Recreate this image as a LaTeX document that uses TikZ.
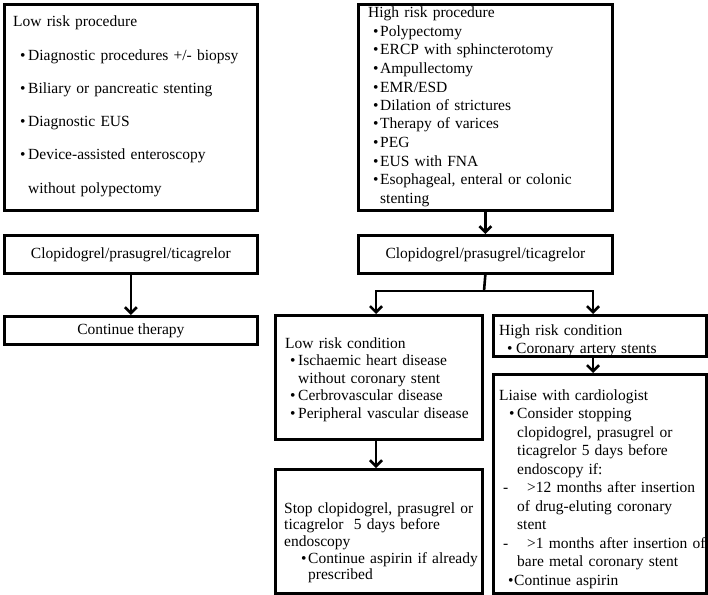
\documentclass[tikz,border=0pt]{standalone}
\usepackage{fontspec}
\setmainfont{Liberation Serif}
\usetikzlibrary{arrows.meta}
\newcommand{\bi}[3]{\hspace*{#1pt}\makebox[\dimexpr#2pt-#1pt\relax][l]{\textbullet}#3}
\newcommand{\ci}[2]{\hspace*{#1pt}#2}
\tikzset{
  box/.style={draw=black, line width=2.7pt, inner sep=0pt, anchor=north west, font=\fontsize{15.5}{18}\selectfont},
  txt/.style={anchor=base west, inner sep=0pt, text width=320pt, align=left},
  conn/.style={line width=2.6pt},
  arr/.style={line width=2.6pt, -{Straight Barb[length=6pt,width=12pt,line width=2.6pt]}}
}
\begin{document}
\begin{tikzpicture}[x=1pt,y=-1pt]
\useasboundingbox[fill=white] (0,0) rectangle (708,594);
% boxes
\node[box, minimum width=253pt, minimum height=206pt] (lowproc) at (3,3) {};
\node[box, minimum width=254pt, minimum height=206pt] (highproc) at (357,3) {};
\node[box, minimum width=253pt, minimum height=38pt] (clopL) at (3,234) {Clopidogrel/prasugrel/ticagrelor};
\node[box, minimum width=253pt, minimum height=28pt] (cont) at (3,315) {Continue therapy};
\node[box, minimum width=254pt, minimum height=38pt] (clopR) at (357,234) {Clopidogrel/prasugrel/ticagrelor};
\node[box, minimum width=207pt, minimum height=124pt] (lowcond) at (274,314) {};
\node[box, minimum width=213pt, minimum height=41pt] (highcond) at (492,314) {};
\node[box, minimum width=213pt, minimum height=219pt] (liaise) at (492,373) {};
\node[box, minimum width=207pt, minimum height=124pt] (stop) at (274,468) {};
% texts
\node[txt, font=\fontsize{15.5}{33.2}\selectfont] (lowproc-t) at (13,27) {Low risk procedure\\
\bi{7}{15}{Diagnostic procedures +/- biopsy}\\
\bi{7}{15}{Biliary or pancreatic stenting}\\
\bi{7}{15}{Diagnostic EUS}\\
\bi{7}{15}{Device-assisted enteroscopy}\\
\ci{15}{without polypectomy}};
\node[txt, font=\fontsize{15.5}{18.5}\selectfont] (highproc-t) at (368,18) {High risk procedure\\
\bi{5}{12}{Polypectomy}\\
\bi{5}{12}{ERCP with sphincterotomy}\\
\bi{5}{12}{Ampullectomy}\\
\bi{5}{12}{EMR/ESD}\\
\bi{5}{12}{Dilation of strictures}\\
\bi{5}{12}{Therapy of varices}\\
\bi{5}{12}{PEG}\\
\bi{5}{12}{EUS with FNA}\\
\bi{5}{12}{Esophageal, enteral or colonic}\\
\ci{12}{stenting}};
\node[txt, font=\fontsize{15.5}{17.5}\selectfont] (lowcond-t) at (285,348) {Low risk condition\\
\bi{5}{13}{Ischaemic heart disease}\\
\ci{13}{without coronary stent}\\
\bi{5}{13}{Cerbrovascular disease}\\
\bi{5}{13}{Peripheral vascular disease}};
\node[txt, font=\fontsize{15.5}{18}\selectfont] (highcond-t) at (499,335) {High risk condition\\
\bi{8}{17}{Coronary artery stents}};
\node[txt, font=\fontsize{15.5}{18.5}\selectfont] (liaise-t) at (499,400) {Liaise with cardiologist\\
\bi{10}{18}{Consider stopping}\\
\ci{18}{clopidogrel, prasugrel or}\\
\ci{18}{ticagrelor 5 days before}\\
\ci{18}{endoscopy if:}\\
\hspace*{4pt}\makebox[24pt][l]{-}{>}12 months after insertion\\
\ci{18}{of drug-eluting coronary}\\
\ci{18}{stent}\\
\hspace*{4pt}\makebox[24pt][l]{-}{>}1 months after insertion of\\
\ci{18}{bare metal coronary stent}\\
\bi{9}{15}{Continue aspirin}};
\node[txt, font=\fontsize{15.5}{16.7}\selectfont] (stop-t) at (284,513) {Stop clopidogrel, prasugrel or\\
ticagrelor~ 5 days before\\
endoscopy\\
\bi{17}{24}{Continue aspirin if already}\\
\ci{24}{prescribed}};
% connectors
\coordinate (fork) at (484,291);
\coordinate (fl) at (376,291);
\coordinate (fr) at (593,291);
\draw[arr] (clopL.south) -- (cont.north);
\draw[arr] (highproc.south -| clopR.north) -- (clopR.north);
\draw[conn] (clopR.south) -- (fork);
\draw[conn, line cap=rect] (fl) -- (fr);
\draw[arr] (fl) -- (fl |- lowcond.north);
\draw[arr] (fr) -- (fr |- highcond.north);
\draw[arr] (fl |- lowcond.south) -- (fl |- stop.north);
\draw[arr] (fr |- highcond.south) -- (fr |- liaise.north);
\end{tikzpicture}
\end{document}
